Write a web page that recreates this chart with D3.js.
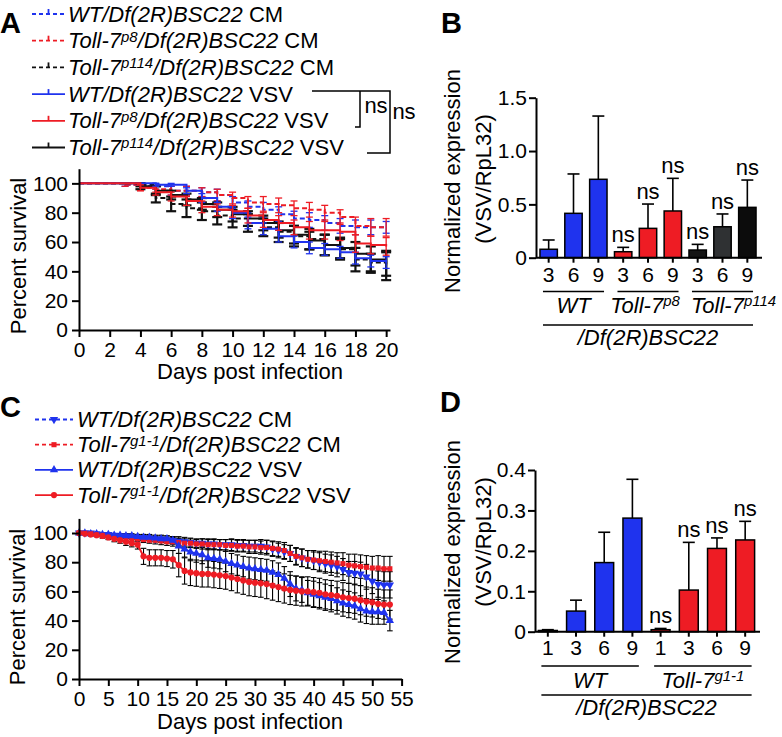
<!DOCTYPE html>
<html>
<head>
<meta charset="utf-8">
<script src="https://cdn.jsdelivr.net/npm/d3@7"></script>
<style>
  body { margin: 0; background: #fff; }
  svg text { font-family: "Liberation Sans", Arial, sans-serif; fill: #000; }
</style>
</head>
<body>
<svg id="fig" width="782" height="737"></svg>
<script>
// ---------- panel A : survival, Toll-7 p8 / p114 (days 0..20) ----------
var daysA = [0,1,2,3,4,5,6,7,8,9,10,11,12,13,14,15,16,17,18,19,20];
var wtCM       = [100,100,100,99,98,98,95,95,94,92,87,84,82,79,76,75,73,71,70,70,70];
var wtCMErr    = [0,0,0,1,2,2,3,3,3,4,4,4,5,5,5,5,5,5,5,5,4];
var p8CM       = [100,100,100,99,97,96,95,95,94,92,90,87,86,85,83,82,80,77,71,70,70];
var p8CMErr    = [0,0,0,1,2,2,3,3,3,4,4,4,5,5,5,5,5,5,6,6,6];
var p114CM     = [100,100,100,100,99,90,86,83,81,78,76,73,70,67,64,62,58,55,48,46,45];
var p114CMErr  = [0,0,0,0,1,3,5,6,6,6,6,6,6,7,7,7,7,7,8,6,8];
var wtVSV      = [100,100,100,100,100,99,99,95,90,84,80,73,69,64,60,56,55,53,49,47,46];
var wtVSVErr   = [0,0,0,0,0,1,1,2,3,3,4,4,4,4,4,4,4,4,4,4,4];
var p8VSV      = [100,100,100,100,97,94,91,88,84,82,81,78,75,73,70,68,68,67,59,58,57];
var p8VSVErr   = [0,0,0,0,2,2,3,3,4,4,4,5,5,5,5,6,6,6,6,6,6];
var p114VSV    = [100,100,100,100,98,95,92,89,86,82,79,76,73,68,65,61,58,56,52,48,44];
var p114VSVErr = [0,0,0,0,2,3,3,4,4,5,5,5,5,5,6,6,7,7,8,9,10];
var ticksA = [0,2,4,6,8,10,12,14,16,18,20];
var survTicks = [0,20,40,60,80,100];

// ---------- panel B : VSV RNA, p8 / p114 ----------
var catsB  = ["3","6","9","3","6","9","3","6","9"];
var valsB  = [0.079,0.416,0.735,0.056,0.275,0.438,0.072,0.29,0.472];
var errB   = [0.087,0.369,0.593,0.041,0.228,0.306,0.053,0.12,0.256];
var sigB   = ["","","","ns","ns","ns","ns","ns","ns"];
var ticksB = [0,0.5,1.0,1.5];

// ---------- panel C : survival, Toll-7 g1-1 (days 0..53) ----------
var daysC = [0,1,2,3,4,5,6,7,8,9,10,11,12,13,14,15,16,17,18,19,20,21,22,23,24,25,26,
             27,28,29,30,31,32,33,34,35,36,37,38,39,40,41,42,43,44,45,46,47,48,49,50,51,52,53];
var wtCMc = [100,100,100,99.5,99,99,98.5,98,98,97.5,97,
             97,96.5,96,96,95.5,95,94.5,94,93.5,93,
             93,92.5,92.5,92,92,92,91.5,91.5,91,91,
             91,90.5,89,88,87,86,84,83,82,81,
             80,79,78,77,75,73,72.5,72,70,67,
             65,64.5,64.5];
var wtCMcErr = [0,0,0,0.5,1,1,1,1.5,1.5,1.5,2,
                2,2,2,2.5,2.5,2.5,3,3,3,3,
                3,3.5,3.5,3.5,3.5,4,4,4,4,4,
                4.5,4.5,5,5,5,5.5,5.5,6,6,6,
                6.5,6.5,7,7,7.5,7.5,8,8,8.5,8.5,
                9,9,9];
var g1CMc = [100,100,99.5,99,98.5,98,97.5,97,96.5,96,96,
             95.5,95,95,94.5,94,94,93.5,93,93,92.5,
             92.5,92,92,92,91.5,91.5,91,91,90.5,90.5,
             90,90,89.5,89,88,86,84,83,82,81.5,
             81,80.5,80,79.5,79,78,77.5,77,76.5,76,
             76,75.5,75.5];
var g1CMcErr = [0,0,0.5,1,1,1,1.5,1.5,1.5,2,2,
                2,2,2.5,2.5,2.5,3,3,3,3,3,
                3.5,3.5,3.5,3.5,4,4,4,4,4.5,4.5,
                4.5,5,5,5,5.5,5.5,6,6,6,6.5,
                6.5,7,7,7,7.5,7.5,8,8,8,8,
                8.5,8.5,8.5];
var wtVSVc = [100,100,99.5,99.5,99,99,98.5,98.5,98,98,97.5,
              97,97,96.5,96,96,95,91,89,87,86,
              85,83,82.5,82,80.5,79,78,77,76,75.5,
              75,74.5,73,71.5,69,65,62,61,59,58,
              57,56,55,53.5,52,51,50,48,46.5,46,
              46,45.5,40];
var wtVSVcErr = [0,0,0.5,0.5,1,1,1,1,1.5,1.5,1.5,
                 2,2,2,2,2,2.5,5,5.5,6,6,
                 6,6.5,6.5,6.5,7,7,7,7,7.5,7.5,
                 7.5,7.5,8,8,8,8.5,8.5,8.5,8.5,9,
                 9,9,9,9,9,9,9,9,8.5,8.5,
                 8.5,8,7];
var g1VSVc = [100,99.5,99,98.5,98,97,96,95,94,93,92,
              84,83,83,83,82.5,82,78,74,73,72.5,
              72,72,71.5,71,70.5,69.5,68.5,67.5,66.5,66,
              65.5,65,64,63,62,61,60.5,60,60,59.5,
              59,58,57.5,57,56,55.5,55,54,53,52.5,
              51.5,51,51];
var g1VSVcErr = [0,0.5,1,1,1.5,1.5,2,2,2.5,2.5,3,
                 5.5,5.5,5.5,5.5,5.5,6,8,9,9,9,
                 9,9,9,9,9,9,9.5,9.5,9.5,9.5,
                 9.5,10,10,10,10,10,10,10,10,10,
                 10,10,10,10,10,10,10,10,10,10,
                 10,10,10];
var ticksC = [0,5,10,15,20,25,30,35,40,45,50,55];

// ---------- panel D : VSV RNA, g1-1 ----------
var catsD  = ["1","3","6","9","1","3","6","9"];
var valsD  = [0.003,0.051,0.171,0.281,0.005,0.103,0.206,0.227];
var errD   = [0.002,0.027,0.075,0.096,0.003,0.118,0.026,0.046];
var sigD   = ["","","","","ns","ns","ns","ns"];
var ticksD = [0,0.1,0.2,0.3,0.4];

var BLUE = "#1f33ee", RED = "#ee1c24", BLACK = "#111";
var svg = d3.select("#fig");

// text with italic / superscript pieces: [string, "i" | "n" | "s"]
function rich(g, x, y, parts, size, anchor) {
  var t = g.append("text").attr("x", x).attr("y", y)
    .attr("font-size", size).attr("text-anchor", anchor || "start");
  var up = false;
  parts.forEach(function (p) {
    var ts = t.append("tspan").text(p[0]);
    if (p[1] != "n") ts.attr("font-style", "italic");
    if (p[1] == "s") {
      ts.attr("font-size", size * 0.68).attr("dy", -size * 0.3);
      up = true;
    } else if (up) {
      ts.attr("dy", size * 0.3);
      up = false;
    }
  });
  return t;
}

function styleAxis(g, fs) {
  g.attr("font-size", fs);
  g.select(".domain").attr("stroke-width", 2);
  g.selectAll(".tick line").attr("stroke-width", 2);
}

function panelLetter(x, y, s) {
  svg.append("text").attr("x", x).attr("y", y).attr("font-size", 29)
    .attr("font-weight", "bold").text(s);
}

// =================== A ===================
panelLetter(0, 33, "A");
var xA = d3.scaleLinear().domain([0, 20.25]).range([79, 390]);
var yA = d3.scaleLinear().domain([0, 110]).range([330, 168.7]);
var gA = svg.append("g");

var seriesA = [
  { v: p114CM, e: p114CMErr, c: BLACK, dash: true },
  { v: wtCM, e: wtCMErr, c: BLUE, dash: true },
  { v: p8CM, e: p8CMErr, c: RED, dash: true },
  { v: p114VSV, e: p114VSVErr, c: BLACK, dash: false },
  { v: wtVSV, e: wtVSVErr, c: BLUE, dash: false },
  { v: p8VSV, e: p8VSVErr, c: RED, dash: false }
];
var stepLine = d3.line().curve(d3.curveStepAfter)
  .x(function (d) { return xA(d[0]); }).y(function (d) { return yA(d[1]); });

seriesA.forEach(function (s) {
  var pts = daysA.map(function (d, i) { return [d, s.v[i], s.e[i]]; });
  var cw = s.c == BLACK ? 5 : 3.5;
  var eb = gA.append("g").attr("stroke", s.c).attr("stroke-width", s.c == BLACK ? 2.2 : 1.3);
  pts.filter(function (p) { return p[2] > 0; }).forEach(function (p) {
    var x = xA(p[0]), y0 = yA(p[1] - p[2]), y1 = yA(p[1] + p[2]);
    eb.append("line").attr("x1", x).attr("x2", x).attr("y1", y0).attr("y2", y1);
    eb.append("line").attr("x1", x - cw).attr("x2", x + cw).attr("y1", y0).attr("y2", y0);
    eb.append("line").attr("x1", x - cw).attr("x2", x + cw).attr("y1", y1).attr("y2", y1);
  });
  gA.append("path").attr("d", stepLine(pts)).attr("fill", "none")
    .attr("stroke", s.c).attr("stroke-width", 2)
    .attr("stroke-dasharray", s.dash ? "5,3" : null);
});

var axYA = gA.append("g").attr("transform", "translate(79,0)")
  .call(d3.axisLeft(yA).tickValues(survTicks).tickSize(7).tickPadding(4).tickSizeOuter(0));
styleAxis(axYA, 21);
var axXA = gA.append("g").attr("transform", "translate(0,330)")
  .call(d3.axisBottom(xA).tickValues(ticksA).tickSize(7).tickPadding(5).tickSizeOuter(0));
styleAxis(axXA, 21);
gA.append("text").attr("transform", "translate(26,256) rotate(-90)")
  .attr("text-anchor", "middle").attr("font-size", 22).text("Percent survival");
gA.append("text").attr("x", 250).attr("y", 379).attr("text-anchor", "middle")
  .attr("font-size", 22).text("Days post infection");

// legend A
var legA = [
  { c: BLUE, dash: true, t: [["WT/Df(2R)BSC22", "i"], [" CM", "n"]] },
  { c: RED, dash: true, t: [["Toll-7", "i"], ["p8", "s"], ["/Df(2R)BSC22", "i"], [" CM", "n"]] },
  { c: BLACK, dash: true, t: [["Toll-7", "i"], ["p114", "s"], ["/Df(2R)BSC22", "i"], [" CM", "n"]] },
  { c: BLUE, dash: false, t: [["WT/Df(2R)BSC22", "i"], [" VSV", "n"]] },
  { c: RED, dash: false, t: [["Toll-7", "i"], ["p8", "s"], ["/Df(2R)BSC22", "i"], [" VSV", "n"]] },
  { c: BLACK, dash: false, t: [["Toll-7", "i"], ["p114", "s"], ["/Df(2R)BSC22", "i"], [" VSV", "n"]] }
];
legA.forEach(function (L, i) {
  var yb = 21.5 + i * 26.7, yl = yb - 7.5;
  gA.append("line").attr("x1", 32).attr("x2", 65).attr("y1", yl).attr("y2", yl)
    .attr("stroke", L.c).attr("stroke-width", 1.8).attr("stroke-dasharray", L.dash ? "4,3" : null);
  gA.append("line").attr("x1", 48.5).attr("x2", 48.5).attr("y1", yl - 5).attr("y2", yl)
    .attr("stroke", L.c).attr("stroke-width", 1.8);
  rich(gA, 68, yb, L.t, 22);
});
// significance brackets
gA.append("path").attr("d", "M312,91H390V153H367M360,91V127H355")
  .attr("fill", "none").attr("stroke", "#000").attr("stroke-width", 1.5);
gA.append("text").attr("x", 376).attr("y", 113).attr("text-anchor", "middle").attr("font-size", 22).text("ns");
gA.append("text").attr("x", 404).attr("y", 119).attr("text-anchor", "middle").attr("font-size", 22).text("ns");

// =================== bar panels ===================
function barPanel(o) {
  var g = svg.append("g");
  var idx = o.cats.map(function (c, i) { return i; });
  var x = d3.scaleBand().domain(idx).range(o.xr).paddingInner(o.pi).paddingOuter(o.po);
  var y = d3.scaleLinear().domain(o.yd).range(o.yr);
  var bw = x.bandwidth();
  // error bars (upper only)
  idx.forEach(function (i) {
    var cx = x(i) + bw / 2, yt = y(o.vals[i] + o.err[i]);
    g.append("line").attr("x1", cx).attr("x2", cx).attr("y1", y(o.vals[i])).attr("y2", yt)
      .attr("stroke", "#000").attr("stroke-width", 1.6);
    g.append("line").attr("x1", cx - 6).attr("x2", cx + 6).attr("y1", yt).attr("y2", yt)
      .attr("stroke", "#000").attr("stroke-width", 1.6);
    if (o.sig[i]) g.append("text").attr("x", cx).attr("y", yt - 5).attr("text-anchor", "middle")
      .attr("font-size", 22).text(o.sig[i]);
  });
  g.selectAll("rect.bar").data(idx).join("rect").attr("class", "bar")
    .attr("x", function (i) { return x(i); }).attr("width", bw)
    .attr("y", function (i) { return y(o.vals[i]); })
    .attr("height", function (i) { return y(0) - y(o.vals[i]); })
    .attr("fill", function (i) { return o.colors[i]; })
    .attr("stroke", "#000").attr("stroke-width", 1.5);
  var ay = g.append("g").attr("transform", "translate(" + o.xr[0] + ",0)")
    .call(d3.axisLeft(y).tickValues(o.yt).tickFormat(o.fmt).tickSize(7).tickPadding(2).tickSizeOuter(0));
  styleAxis(ay, 21);
  var ax = g.append("g").attr("transform", "translate(0," + o.yr[0] + ")")
    .call(d3.axisBottom(x).tickFormat(function (i) { return o.cats[i]; })
      .tickSize(5).tickPadding(o.tp).tickSizeOuter(0));
  styleAxis(ax, 21);
  ax.select(".domain").attr("d", "M" + o.xr[0] + ",0H" + o.xEnd);
  // y title
  g.append("text").attr("transform", "translate(460," + o.t1 + ") rotate(-90)")
    .attr("text-anchor", "middle").attr("font-size", 22).text("Normalized expression");
  g.append("text").attr("transform", "translate(491," + o.t2 + ") rotate(-90)")
    .attr("text-anchor", "middle").attr("font-size", 22).text("(VSV/RpL32)");
  // genotype grouping
  o.groups.forEach(function (gr) {
    var x0 = x(gr.from) + 3, x1 = x(gr.to) + bw - 3;
    g.append("line").attr("x1", x0).attr("x2", x1).attr("y1", o.gl).attr("y2", o.gl)
      .attr("stroke", "#000").attr("stroke-width", 1.5);
    rich(g, (x0 + x1) / 2 + (gr.dx || 0), o.glb, gr.t, 22, "middle");
  });
  var xa = x(0) + 3, xb = x(idx.length - 1) + bw - 3;
  g.append("line").attr("x1", xa).attr("x2", xb).attr("y1", o.bl).attr("y2", o.bl)
    .attr("stroke", "#000").attr("stroke-width", 1.5);
  rich(g, (xa + xb) / 2, o.blb, [["/Df(2R)BSC22", "i"]], 22, "middle");
}

panelLetter(441, 33, "B");
barPanel({
  cats: catsB, vals: valsB, err: errB, sig: sigB,
  colors: [BLUE, BLUE, BLUE, RED, RED, RED, "#141414", "#2f3133", "#0c0c0c"],
  xr: [536, 760], xEnd: 762, pi: 0.3, po: 0.16, yd: [0, 1.5], yr: [257.7, 97.7],
  yt: ticksB, fmt: function (d) { return d == 0 ? "0" : d3.format(".1f")(d); }, tp: 4,
  t1: 181, t2: 179,
  gl: 291.5, glb: 313, bl: 325, blb: 345,
  groups: [
    { from: 0, to: 2, t: [["WT", "i"]] },
    { from: 3, to: 5, dx: -3, t: [["Toll-7", "i"], ["p8", "s"]] },
    { from: 6, to: 8, dx: 11, t: [["Toll-7", "i"], ["p114", "s"]] }
  ]
});

panelLetter(440, 412, "D");
barPanel({
  cats: catsD, vals: valsD, err: errD, sig: sigD,
  colors: [BLUE, BLUE, BLUE, BLUE, RED, RED, RED, RED],
  xr: [535, 758], xEnd: 760, pi: 0.33, po: 0.12, yd: [0, 0.4], yr: [631.7, 470],
  yt: ticksD, fmt: function (d) { return d == 0 ? "0" : d3.format(".1f")(d); }, tp: 3,
  t1: 552, t2: 542,
  gl: 666, glb: 688, bl: 695, blb: 715,
  groups: [
    { from: 0, to: 3, t: [["WT", "i"]] },
    { from: 4, to: 7, t: [["Toll-7", "i"], ["g1-1", "s"]] }
  ]
});

// =================== C ===================
panelLetter(0, 417, "C");
var xC = d3.scaleLinear().domain([0, 55]).range([79, 401.6]);
var yC = d3.scaleLinear().domain([0, 110]).range([679, 518.4]);
var gC = svg.append("g");
var seriesC = [
  { v: wtCMc, e: wtCMcErr, c: BLUE, dash: true, sym: "down" },
  { v: g1CMc, e: g1CMcErr, c: RED, dash: true, sym: "square" },
  { v: wtVSVc, e: wtVSVcErr, c: BLUE, dash: false, sym: "up" },
  { v: g1VSVc, e: g1VSVcErr, c: RED, dash: false, sym: "circle" }
];
function symPath(kind) {
  if (kind == "square") return d3.symbol(d3.symbolSquare, 26)();
  if (kind == "circle") return d3.symbol(d3.symbolCircle, 30)();
  return d3.symbol(d3.symbolTriangle, 30)();
}
function symTransform(kind, x, y) {
  return "translate(" + x + "," + y + ")" + (kind == "down" ? " rotate(180)" : "");
}
var ebC = gC.append("g").attr("stroke", "#000").attr("stroke-width", 1.1);
seriesC.forEach(function (s) {
  daysC.forEach(function (d, i) {
    if (!(s.e[i] > 0)) return;
    var x = xC(d), y0 = yC(s.v[i] - s.e[i]), y1 = yC(s.v[i] + s.e[i]);
    ebC.append("line").attr("x1", x).attr("x2", x).attr("y1", y0).attr("y2", y1);
    ebC.append("line").attr("x1", x - 2.8).attr("x2", x + 2.8).attr("y1", y0).attr("y2", y0);
    ebC.append("line").attr("x1", x - 2.8).attr("x2", x + 2.8).attr("y1", y1).attr("y2", y1);
  });
});
var lineC = d3.line().x(function (d) { return xC(d[0]); }).y(function (d) { return yC(d[1]); });
seriesC.forEach(function (s) {
  var pts = daysC.map(function (d, i) { return [d, s.v[i]]; });
  gC.append("path").attr("d", lineC(pts)).attr("fill", "none").attr("stroke", s.c)
    .attr("stroke-width", 2).attr("stroke-dasharray", s.dash ? "3,2" : null);
  gC.append("g").selectAll("path").data(pts).join("path")
    .attr("d", symPath(s.sym))
    .attr("transform", function (p) { return symTransform(s.sym, xC(p[0]), yC(p[1])); })
    .attr("fill", s.c);
});
var axYC = gC.append("g").attr("transform", "translate(79,0)")
  .call(d3.axisLeft(yC).tickValues(survTicks).tickSize(7).tickPadding(4).tickSizeOuter(0));
styleAxis(axYC, 21);
var axXC = gC.append("g").attr("transform", "translate(0,679)")
  .call(d3.axisBottom(xC).tickValues(ticksC).tickSize(7).tickPadding(5).tickSizeOuter(0));
styleAxis(axXC, 21);
gC.append("text").attr("transform", "translate(25,607) rotate(-90)")
  .attr("text-anchor", "middle").attr("font-size", 22).text("Percent survival");
gC.append("text").attr("x", 250).attr("y", 729).attr("text-anchor", "middle")
  .attr("font-size", 22).text("Days post infection");

var legC = [
  { c: BLUE, dash: true, sym: "down", t: [["WT/Df(2R)BSC22", "i"], [" CM", "n"]] },
  { c: RED, dash: true, sym: "square", t: [["Toll-7", "i"], ["g1-1", "s"], ["/Df(2R)BSC22", "i"], [" CM", "n"]] },
  { c: BLUE, dash: false, sym: "up", t: [["WT/Df(2R)BSC22", "i"], [" VSV", "n"]] },
  { c: RED, dash: false, sym: "circle", t: [["Toll-7", "i"], ["g1-1", "s"], ["/Df(2R)BSC22", "i"], [" VSV", "n"]] }
];
legC.forEach(function (L, i) {
  var yb = 427 + i * 25.2, yl = yb - 7.5;
  gC.append("line").attr("x1", 35).attr("x2", 73).attr("y1", yl).attr("y2", yl)
    .attr("stroke", L.c).attr("stroke-width", 1.8).attr("stroke-dasharray", L.dash ? "4,3" : null);
  gC.append("path").attr("d", symPath(L.sym)).attr("transform", symTransform(L.sym, 54, yl)).attr("fill", L.c);
  rich(gC, 77, yb, L.t, 22);
});
</script>
</body>
</html>
